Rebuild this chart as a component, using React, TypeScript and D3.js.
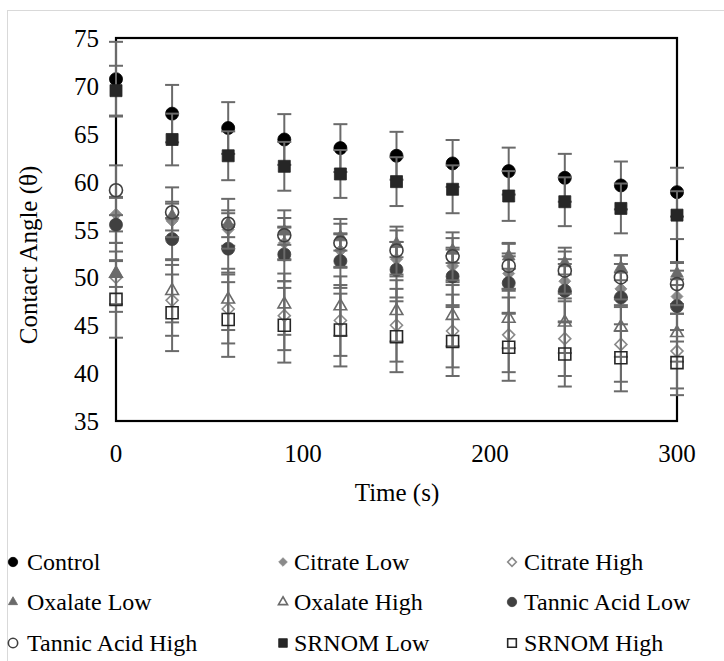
import React from "react";
import * as d3 from "d3";

// Time points (s)
const times = [0, 30, 60, 90, 120, 150, 180, 210, 240, 270, 300];

// Mean contact angle per series
const control = [70.7, 67.1, 65.6, 64.4, 63.5, 62.7, 61.9, 61.1, 60.4, 59.6, 58.9];
const citrateLow = [56.6, 55.9, 55.0, 53.6, 52.8, 51.9, 51.2, 50.4, 49.6, 48.8, 48.0];
const citrateHigh = [50.0, 47.6, 46.7, 46.0, 45.5, 45.0, 44.4, 44.0, 43.6, 43.0, 42.3];
const oxalateLow = [50.4, 56.4, 55.6, 54.8, 54.2, 53.5, 52.8, 52.2, 51.5, 51.0, 50.4];
const oxalateHigh = [50.4, 48.6, 47.7, 47.2, 47.0, 46.5, 46.0, 45.7, 45.3, 44.8, 44.2];
const tannicLow = [55.5, 54.0, 53.0, 52.4, 51.7, 50.8, 50.1, 49.4, 48.6, 47.9, 47.0];
const tannicHigh = [59.1, 56.8, 55.6, 54.4, 53.6, 52.8, 52.2, 51.2, 50.7, 50.0, 49.3];
const srnomLow = [69.5, 64.4, 62.7, 61.6, 60.8, 60.0, 59.2, 58.5, 57.9, 57.2, 56.5];
const srnomHigh = [47.7, 46.3, 45.6, 45.0, 44.5, 43.8, 43.3, 42.7, 42.0, 41.6, 41.1];

// Standard deviations (error bar half-lengths)
const controlErr = [3.9, 3.0, 2.7, 2.65, 2.5, 2.5, 2.45, 2.45, 2.5, 2.5, 2.55];
const citrateLowErr = [1.8, 1.8, 1.7, 1.7, 1.8, 1.8, 1.7, 1.8, 1.8, 1.7, 1.8];
const citrateHighErr = [3.6, 3.7, 3.6, 3.6, 3.7, 3.8, 3.8, 3.9, 3.9, 3.9, 3.9];
const oxalateLowErr = [1.4, 1.5, 1.4, 1.4, 1.4, 1.4, 1.3, 1.3, 1.2, 1.3, 1.2];
const oxalateHighErr = [3.2, 3.3, 3.2, 3.2, 3.1, 3.2, 3.2, 3.1, 3.2, 3.1, 3.0];
const tannicLowErr = [2.8, 2.2, 2.5, 2.8, 2.8, 2.9, 3.0, 3.1, 3.3, 3.5, 3.7];
const tannicHighErr = [2.6, 2.6, 2.6, 2.6, 2.5, 2.5, 2.5, 2.4, 2.4, 2.3, 2.2];
const srnomLowErr = [2.6, 2.7, 2.55, 2.55, 2.5, 2.55, 2.5, 2.6, 2.55, 2.6, 2.5];
const srnomHighErr = [4.0, 4.0, 3.9, 3.9, 3.8, 3.7, 3.6, 3.5, 3.4, 3.5, 3.4];

const yTicks = [35, 40, 45, 50, 55, 60, 65, 70, 75];
const xTicks = [0, 100, 200, 300];

type Shape = "circle" | "square" | "triangle" | "diamond";

interface Series {
  name: string;
  values: number[];
  errors: number[];
  shape: Shape;
  color: string;
  filled: boolean;
}

const series: Series[] = [
  { name: "Control", values: control, errors: controlErr, shape: "circle", color: "#000000", filled: true },
  { name: "Citrate Low", values: citrateLow, errors: citrateLowErr, shape: "diamond", color: "#8a8a8a", filled: true },
  { name: "Citrate High", values: citrateHigh, errors: citrateHighErr, shape: "diamond", color: "#8a8a8a", filled: false },
  { name: "Oxalate Low", values: oxalateLow, errors: oxalateLowErr, shape: "triangle", color: "#6a6a6a", filled: true },
  { name: "Oxalate High", values: oxalateHigh, errors: oxalateHighErr, shape: "triangle", color: "#6a6a6a", filled: false },
  { name: "Tannic Acid Low", values: tannicLow, errors: tannicLowErr, shape: "circle", color: "#404040", filled: true },
  { name: "Tannic Acid High", values: tannicHigh, errors: tannicHighErr, shape: "circle", color: "#404040", filled: false },
  { name: "SRNOM Low", values: srnomLow, errors: srnomLowErr, shape: "square", color: "#262626", filled: true },
  { name: "SRNOM High", values: srnomHigh, errors: srnomHighErr, shape: "square", color: "#262626", filled: false },
];

const W = 724;
const H = 661;
const plot = { left: 116, right: 677, top: 38, bottom: 421 };
const FONT = '"Liberation Serif", "DejaVu Serif", serif';

const x = d3.scaleLinear().domain([0, 300]).range([plot.left, plot.right]);
const y = d3.scaleLinear().domain([35, 75]).range([plot.bottom, plot.top]);

function markerPath(shape: Shape, s: number): string {
  if (shape === "diamond") {
    const r = s * 0.5;
    return `M0,${-r}L${r},0L0,${r}L${-r},0Z`;
  }
  if (shape === "circle") return d3.symbol(d3.symbolCircle, (Math.PI * s * s) / 4)() as string;
  if (shape === "square") return d3.symbol(d3.symbolSquare, s * s)() as string;
  return d3.symbol(d3.symbolTriangle, (Math.sqrt(3) / 4) * s * s * 0.95)() as string;
}

function markerSize(shape: Shape): number {
  if (shape === "circle") return 13;
  if (shape === "square") return 12;
  if (shape === "triangle") return 13;
  return 12;
}

function Marker({ s, cx, cy, scale = 1 }: { s: Series; cx: number; cy: number; scale?: number }) {
  const size = markerSize(s.shape) * scale;
  return (
    <path
      d={markerPath(s.shape, size)}
      transform={`translate(${cx},${cy})`}
      fill={s.filled ? s.color : "none"}
      stroke={s.color}
      strokeWidth={s.filled ? 0.8 : 1.6}
    />
  );
}

const legendMarkerX = [13, 283, 512];
const legendTextX = [27, 294, 524];
const legendRows = [562, 602, 643];
const textStyle = { fontFamily: FONT };

export default function App() {
  const errColor = "#6a6a6a";
  const capHalf = 7;
  return (
    <svg
      width={W}
      height={H}
      style={{ position: "absolute", left: 0, top: 0, background: "#ffffff", fontFamily: FONT }}
    >
      <rect x={0} y={0} width={W} height={H} fill="#ffffff" />
      {/* chart area outline */}
      <rect x={7.5} y={10.5} width={900} height={900} fill="none" stroke="#d9d9d9" strokeWidth={1} />

      {/* plot frame */}
      <rect
        x={plot.left}
        y={plot.top}
        width={plot.right - plot.left}
        height={plot.bottom - plot.top}
        fill="none"
        stroke="#000000"
        strokeWidth={2.2}
      />

      {/* y tick labels */}
      {yTicks.map((t) => (
        <text key={t} x={99} y={y(t) + 9} textAnchor="end" fontSize={25} fill="#000" style={textStyle}>
          {t}
        </text>
      ))}
      {/* x tick labels */}
      {xTicks.map((t) => (
        <text key={t} x={x(t)} y={462} textAnchor="middle" fontSize={25} fill="#000" style={textStyle}>
          {t}
        </text>
      ))}

      {/* axis titles */}
      <text x={397} y={501} textAnchor="middle" fontSize={25} fill="#000" style={textStyle}>
        Time (s)
      </text>
      <text
        transform={`translate(37,255) rotate(-90)`}
        textAnchor="middle"
        fontSize={25}
        fill="#000"
        style={textStyle}
      >
        Contact Angle (θ)
      </text>

      {/* series: error bars then markers */}
      {series.map((s) => (
        <g key={s.name}>
          {s.values.map((v, i) => {
            const cx = x(times[i]);
            const y1 = y(v + s.errors[i]);
            const y2 = y(v - s.errors[i]);
            return (
              <g key={i} stroke={errColor} strokeWidth={2}>
                <line x1={cx} x2={cx} y1={y1} y2={y2} />
                <line x1={cx - capHalf} x2={cx + capHalf} y1={y1} y2={y1} />
                <line x1={cx - capHalf} x2={cx + capHalf} y1={y2} y2={y2} />
              </g>
            );
          })}
          {s.values.map((v, i) => (
            <Marker key={i} s={s} cx={x(times[i])} cy={y(v)} />
          ))}
        </g>
      ))}

      {/* legend */}
      {series.map((s, i) => {
        const col = i % 3;
        const row = Math.floor(i / 3);
        const my = legendRows[row];
        return (
          <g key={s.name}>
            <Marker s={s} cx={legendMarkerX[col]} cy={my} scale={0.72} />
            <text x={legendTextX[col]} y={my + 8} fontSize={24} fill="#000" style={textStyle}>
              {s.name}
            </text>
          </g>
        );
      })}
    </svg>
  );
}
